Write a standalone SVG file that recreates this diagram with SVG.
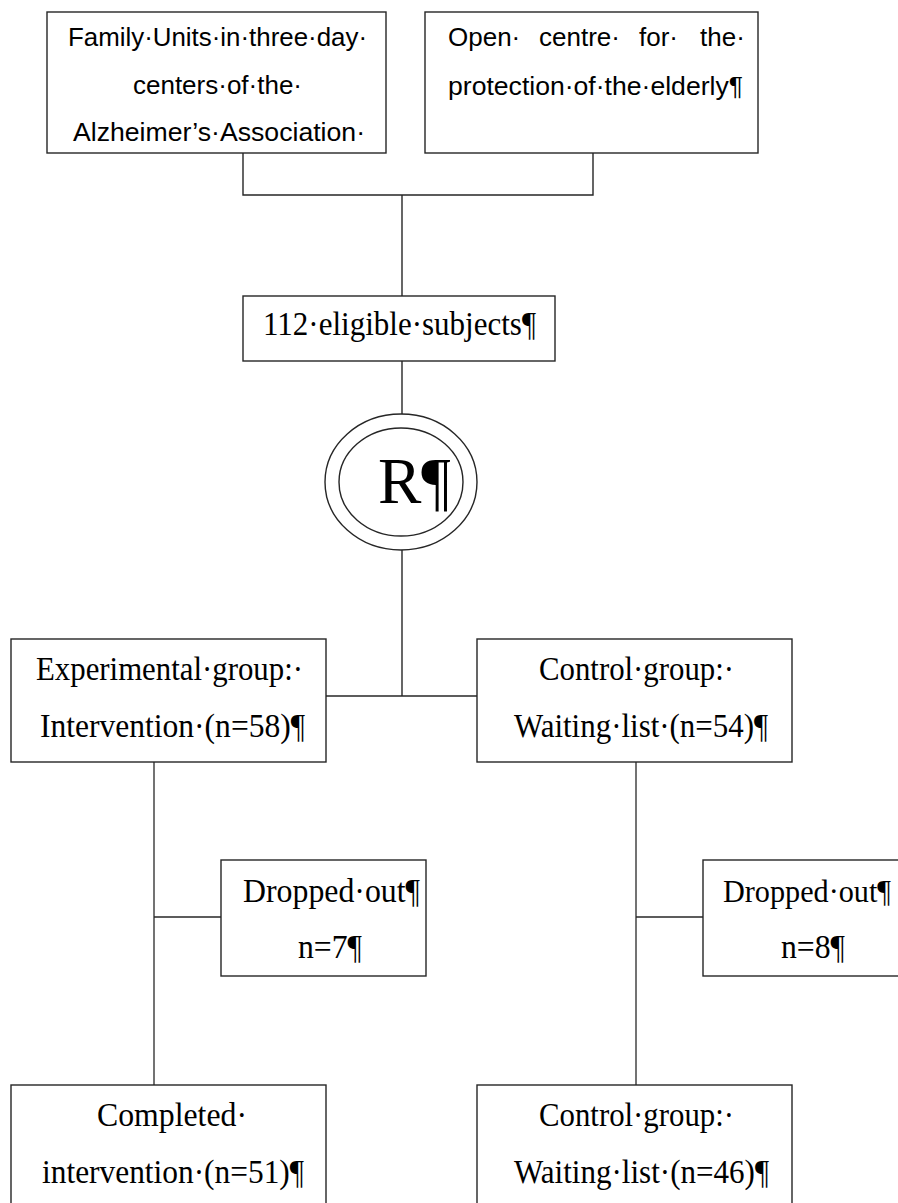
<svg xmlns="http://www.w3.org/2000/svg" width="898" height="1203" viewBox="0 0 898 1203">
<style>
.box{fill:#fff;stroke:#262626;stroke-width:1.4}
.ring{fill:none;stroke:#262626;stroke-width:1.4}
.sans{font-family:"Liberation Sans",Arial,sans-serif;font-size:26px;fill:#000}
.serif{font-family:"Liberation Serif","Times New Roman",serif;font-size:33px;fill:#000}
.big{font-family:"Liberation Serif","Times New Roman",serif;font-size:65px;fill:#000}
.conn{fill:none;stroke:#262626;stroke-width:1.4}
.connv{fill:none;stroke:#505050;stroke-width:1.6}
</style>
<rect width="898" height="1203" fill="#fff"/>
<g id="connectors">
<path class="conn" d="M243,153 V195 H593 V153"/>
<path class="conn" d="M402,195 V296"/>
<path class="conn" d="M402,361 V414"/>
<path class="conn" d="M402,550 V696"/>
<path class="conn" d="M326,696 H477"/>
<path class="connv" d="M154,762 V1085"/>
<path class="conn" d="M154,917 H221"/>
<path class="connv" d="M636,762 V1085"/>
<path class="conn" d="M636,917 H703"/>
</g>
<g id="family-units">
<rect class="box" x="47" y="12" width="339" height="141"/>
<text class="sans" x="68" y="46" textLength="299" lengthAdjust="spacingAndGlyphs">Family·Units·in·three·day·</text>
<text class="sans" x="133" y="94" textLength="169" lengthAdjust="spacingAndGlyphs">centers·of·the·</text>
<text class="sans" x="73" y="141" textLength="292" lengthAdjust="spacingAndGlyphs">Alzheimer’s·Association·</text>
</g>
<g id="open-centre">
<rect class="box" x="425" y="12" width="333" height="141"/>
<text class="sans" y="46"><tspan x="448">Open·</tspan><tspan x="539">centre·</tspan><tspan x="639">for·</tspan><tspan x="700">the·</tspan></text>
<text class="sans" x="448" y="95" textLength="295" lengthAdjust="spacingAndGlyphs">protection·of·the·elderly¶</text>
</g>
<g id="eligible">
<rect class="box" x="243" y="296" width="312" height="65"/>
<text class="serif" x="263" y="335" textLength="273" lengthAdjust="spacingAndGlyphs">112·eligible·subjects¶</text>
</g>
<g id="randomisation">
<ellipse class="ring" cx="401" cy="482" rx="76" ry="68"/>
<ellipse class="ring" cx="401" cy="482" rx="62" ry="54"/>
<text class="big" x="378" y="503">R¶</text>
</g>
<g id="experimental">
<rect class="box" x="11" y="639" width="315" height="123"/>
<text class="serif" x="36" y="680" textLength="267" lengthAdjust="spacingAndGlyphs">Experimental·group:·</text>
<text class="serif" x="40" y="737" textLength="265" lengthAdjust="spacingAndGlyphs">Intervention·(n=58)¶</text>
</g>
<g id="control">
<rect class="box" x="477" y="639" width="315" height="123"/>
<text class="serif" x="539" y="680" textLength="195" lengthAdjust="spacingAndGlyphs">Control·group:·</text>
<text class="serif" x="514" y="737" textLength="254" lengthAdjust="spacingAndGlyphs">Waiting·list·(n=54)¶</text>
</g>
<g id="dropped-exp">
<rect class="box" x="221" y="860" width="205" height="116"/>
<text class="serif" x="243" y="902" textLength="177" lengthAdjust="spacingAndGlyphs">Dropped·out¶</text>
<text class="serif" x="298" y="958" textLength="64" lengthAdjust="spacingAndGlyphs">n=7¶</text>
</g>
<g id="dropped-control">
<rect class="box" x="703" y="860" width="215" height="116"/>
<text class="serif" x="723" y="902" style="font-size:30.5px" textLength="168" lengthAdjust="spacingAndGlyphs">Dropped·out¶</text>
<text class="serif" x="781" y="958" textLength="64" lengthAdjust="spacingAndGlyphs">n=8¶</text>
</g>
<g id="completed">
<rect class="box" x="11" y="1085" width="315" height="140"/>
<text class="serif" x="97" y="1126" textLength="150" lengthAdjust="spacingAndGlyphs">Completed·</text>
<text class="serif" x="42" y="1183" textLength="262" lengthAdjust="spacingAndGlyphs">intervention·(n=51)¶</text>
</g>
<g id="control-final">
<rect class="box" x="477" y="1085" width="315" height="140"/>
<text class="serif" x="539" y="1126" textLength="195" lengthAdjust="spacingAndGlyphs">Control·group:·</text>
<text class="serif" x="514" y="1183" textLength="255" lengthAdjust="spacingAndGlyphs">Waiting·list·(n=46)¶</text>
</g>
</svg>
